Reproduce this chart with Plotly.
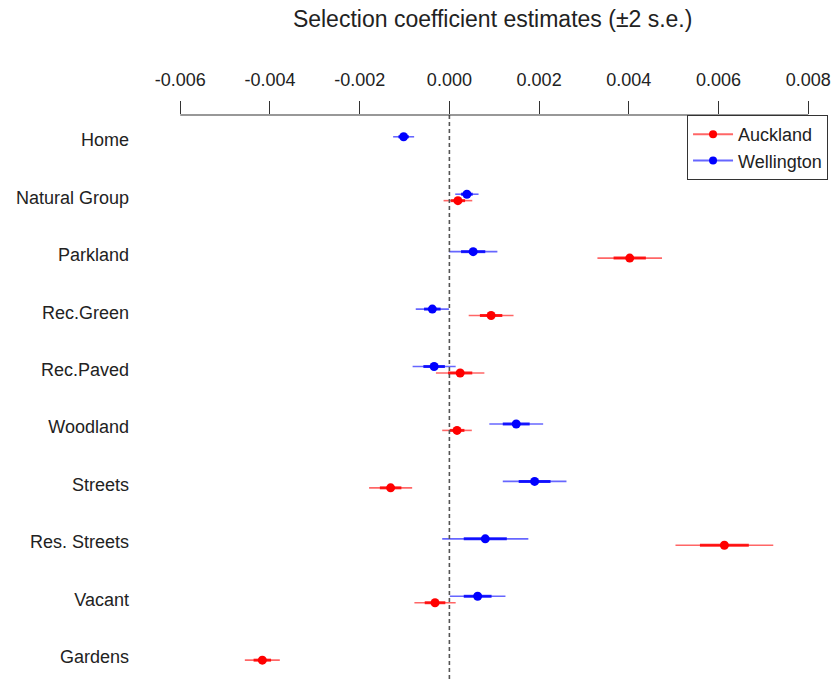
import plotly.graph_objects as go

categories = ["Home", "Natural Group", "Parkland", "Rec.Green", "Rec.Paved",
              "Woodland", "Streets", "Res. Streets", "Vacant", "Gardens"]

# Selection coefficient estimates and their standard errors (None = not estimated)
auckland_est = [None, 0.00019, 0.00402, 0.00093, 0.00024, 0.00017, -0.00131, 0.00613, -0.00032, -0.00417]
auckland_se = [None, 0.00016, 0.00036, 0.00025, 0.00027, 0.000165, 0.00024, 0.000545, 0.00023, 0.000195]
wellington_est = [-0.00102, 0.00039, 0.00053, -0.00038, -0.00034, 0.00149, 0.00190, 0.00080, 0.00063, None]
wellington_se = [0.000117, 0.00013, 0.00027, 0.000185, 0.00024, 0.0003, 0.000355, 0.00048, 0.00031, None]

tick_vals = [-0.006, -0.004, -0.002, 0.0, 0.002, 0.004, 0.006, 0.008]
tick_text = ["-0.006", "-0.004", "-0.002", "0.000", "0.002", "0.004", "0.006", "0.008"]

FONT = "Liberation Sans, Arial, sans-serif"
TXT = "#222222"
idx = list(range(len(categories)))
offset = 0.056

fig = go.Figure()

def add_series(est, se, color, thin_rgba, pos_shift, name):
    ys = [i + pos_shift for i in idx]
    xs, yy, s2, s1 = [], [], [], []
    for e, s, y in zip(est, se, ys):
        if e is None:
            continue
        xs.append(e); yy.append(y); s2.append(2 * s); s1.append(s)
    # +/- 2 s.e. thin line
    fig.add_trace(go.Scatter(x=xs, y=yy, mode="markers", marker=dict(size=1, color="rgba(0,0,0,0)"),
                             error_x=dict(type="data", array=s2, visible=True, width=0,
                                          thickness=1.6, color=thin_rgba),
                             showlegend=False, hoverinfo="skip"))
    # +/- 1 s.e. thick line
    fig.add_trace(go.Scatter(x=xs, y=yy, mode="markers", marker=dict(size=1, color="rgba(0,0,0,0)"),
                             error_x=dict(type="data", array=s1, visible=True, width=0,
                                          thickness=3, color=thin_rgba.replace("0.6", "0.85")),
                             showlegend=False, hoverinfo="skip"))
    # point
    fig.add_trace(go.Scatter(x=xs, y=yy, mode="markers", marker=dict(size=9, color=color),
                             showlegend=False, name=name))
    # legend entry
    fig.add_trace(go.Scatter(x=[None], y=[None], mode="lines+markers", name=name,
                             line=dict(color=thin_rgba, width=2),
                             marker=dict(size=8, color=color)))

add_series(auckland_est, auckland_se, "#ff0000", "rgba(255,0,0,0.6)", offset, "Auckland")
add_series(wellington_est, wellington_se, "#0000ff", "rgba(0,0,255,0.6)", -offset, "Wellington")

# zero reference line
fig.add_shape(type="line", x0=0, x1=0, xref="x", y0=0, y1=1, yref="paper",
              line=dict(color="#555555", width=1.6, dash="4px,3px"))
# axis line spanning tick range
fig.add_shape(type="line", x0=tick_vals[0], x1=tick_vals[-1], xref="x", y0=1, y1=1, yref="paper",
              line=dict(color="#333333", width=1.2))

fig.update_layout(
    width=835, height=679,
    margin=dict(l=150, r=0, t=115, b=0),
    plot_bgcolor="white", paper_bgcolor="white",
    font=dict(family=FONT, size=18, color=TXT),
    title=dict(text="Selection coefficient estimates (±2 s.e.)", x=0.59, xanchor="center",
               y=0.972, yanchor="middle", font=dict(size=23, family=FONT, color=TXT)),
    xaxis=dict(side="top", range=[-0.006674, 0.008596], tickvals=tick_vals, ticktext=tick_text,
               ticks="outside", ticklen=13, tickwidth=1.2, tickcolor="#333333",
               ticklabelstandoff=8, showgrid=False, zeroline=False, showline=False,
               tickfont=dict(size=18, family=FONT, color=TXT)),
    yaxis=dict(range=[9.384, -0.435], tickvals=idx, ticktext=categories, ticks="",
               showgrid=False, zeroline=False, showline=False, ticklabelstandoff=20,
               tickfont=dict(size=18, family=FONT, color=TXT)),
    legend=dict(x=0.784, xanchor="left", y=1.0, yanchor="top", bordercolor="#333333",
                borderwidth=1, bgcolor="white", font=dict(size=18, family=FONT, color=TXT),
                tracegroupgap=0, itemwidth=40),
    showlegend=True,
)

fig.write_html("out.html")
